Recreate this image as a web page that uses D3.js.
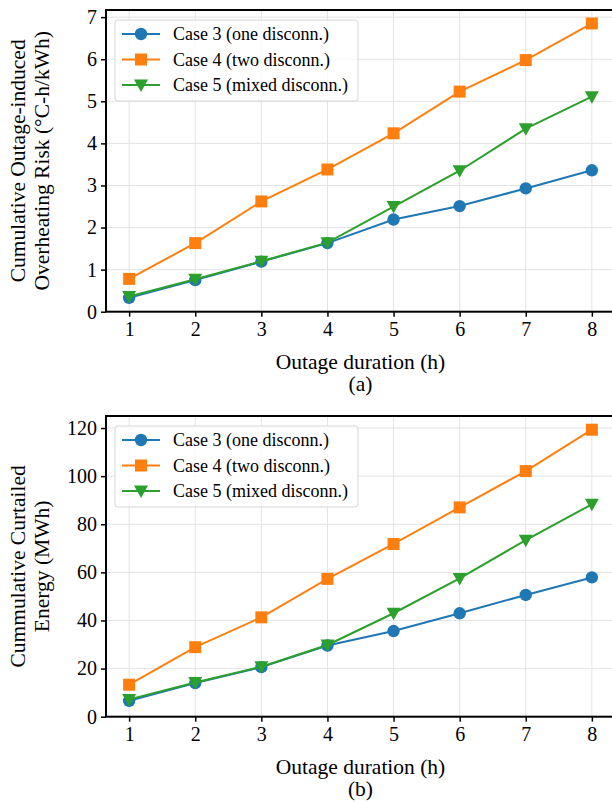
<!DOCTYPE html>
<html>
<head>
<meta charset="utf-8">
<script src="https://cdn.jsdelivr.net/npm/d3@7"></script>
<style>
  body { margin: 0; background: #fff; }
  svg text { font-family: "Liberation Serif", "Times New Roman", serif; fill: #000; }
</style>
</head>
<body>
<div id="chart"></div>
<script>
// outage duration (h)
const hours = [1, 2, 3, 4, 5, 6, 7, 8];

const seriesNames = ["Case 3 (one disconn.)", "Case 4 (two disconn.)", "Case 5 (mixed disconn.)"];
const seriesColors = ["#1f77b4", "#ff7f0e", "#2ca02c"];
const seriesMarkers = ["circle", "square", "triangle"];

// (a) cumulative outage-induced overheating risk
const riskCase3 = [0.33, 0.75, 1.19, 1.63, 2.19, 2.51, 2.93, 3.36];
const riskCase4 = [0.78, 1.63, 2.62, 3.38, 4.24, 5.23, 5.98, 6.85];
const riskCase5 = [0.36, 0.77, 1.20, 1.64, 2.50, 3.35, 4.35, 5.11];
const riskTicks = [0, 1, 2, 3, 4, 5, 6, 7];

// (b) cumulative curtailed energy
const energyCase3 = [6.6, 14.0, 20.6, 29.6, 35.6, 43.0, 50.6, 57.9];
const energyCase4 = [13.3, 28.9, 41.3, 57.3, 71.8, 87.0, 102.1, 119.3];
const energyCase5 = [7.2, 14.2, 20.8, 29.8, 43.0, 57.5, 73.4, 88.3];
const energyTicks = [0, 20, 40, 60, 80, 100, 120];

const W = 612, H = 802;
const svg = d3.select("#chart").append("svg")
    .attr("width", W)
    .attr("height", H);

function drawPanel(cfg) {
    const left = 106, right = 615;
    const top = cfg.top, bottom = cfg.bottom;

    const x = d3.scaleLinear().domain([0.65, 8.35]).range([left, right]);
    const y = d3.scaleLinear().domain(cfg.yDomain).range([bottom, top]);

    const g = svg.append("g");

    // grid
    g.append("g").selectAll("line.gx")
        .data(hours).enter().append("line")
        .attr("x1", d => x(d)).attr("x2", d => x(d))
        .attr("y1", top).attr("y2", bottom)
        .attr("stroke", "#e3e3e3").attr("stroke-width", 1);
    g.append("g").selectAll("line.gy")
        .data(cfg.yTicks).enter().append("line")
        .attr("x1", left).attr("x2", right)
        .attr("y1", d => y(d)).attr("y2", d => y(d))
        .attr("stroke", "#e3e3e3").attr("stroke-width", 1);

    // series
    const line = d3.line().x((d, i) => x(hours[i])).y(d => y(d));
    cfg.series.forEach((vals, k) => {
        const sg = g.append("g");
        sg.append("path")
            .datum(vals)
            .attr("d", line)
            .attr("fill", "none")
            .attr("stroke", seriesColors[k])
            .attr("stroke-width", 2);
        sg.selectAll("path.m")
            .data(vals).enter().append("path")
            .attr("class", "m")
            .attr("transform", (d, i) => `translate(${x(hours[i])},${y(d)})`)
            .attr("d", markerPath(seriesMarkers[k]))
            .attr("fill", seriesColors[k]);
    });

    // axes
    const xAxis = d3.axisBottom(x).tickValues(hours).tickFormat(d3.format("d"))
        .tickSize(5).tickPadding(5);
    const yAxis = d3.axisLeft(y).tickValues(cfg.yTicks).tickFormat(d3.format("d"))
        .tickSize(5).tickPadding(4);

    const gx = g.append("g").attr("transform", `translate(0,${bottom})`).call(xAxis);
    const gy = g.append("g").attr("transform", `translate(${left},0)`).call(yAxis);
    [gx, gy].forEach(a => {
        a.select(".domain").remove();
        a.selectAll(".tick line").attr("stroke", "#000").attr("stroke-width", 1.5);
        a.selectAll(".tick text").style("font-size", "20px");
    });

    // spines
    g.append("rect")
        .attr("x", left).attr("y", top)
        .attr("width", right - left).attr("height", bottom - top)
        .attr("fill", "none").attr("stroke", "#000").attr("stroke-width", 2);

    // axis labels
    const cx = (left + right) / 2;
    g.append("text")
        .attr("x", cx).attr("y", bottom + 57)
        .attr("text-anchor", "middle")
        .style("font-size", "21.5px")
        .text("Outage duration (h)");
    g.append("text")
        .attr("x", cx).attr("y", bottom + 79)
        .attr("text-anchor", "middle")
        .style("font-size", "21.5px")
        .text(cfg.tag);

    const cy = (top + bottom) / 2;
    cfg.yLabel.forEach((t, i) => {
        g.append("text")
            .attr("transform", `translate(${25 + i * 24},${cy}) rotate(-90)`)
            .attr("text-anchor", "middle")
            .style("font-size", "21.5px")
            .text(t);
    });

    // legend
    const lg = g.append("g").attr("transform", `translate(${left + 9},${top + 10})`);
    lg.append("rect")
        .attr("width", 243).attr("height", 81)
        .attr("rx", 3)
        .attr("fill", "rgba(255,255,255,0.8)")
        .attr("stroke", "#d6d6d6").attr("stroke-width", 1);
    seriesNames.forEach((name, k) => {
        const ry = 14 + k * 25.5;
        lg.append("line")
            .attr("x1", 7).attr("x2", 45)
            .attr("y1", ry).attr("y2", ry)
            .attr("stroke", seriesColors[k]).attr("stroke-width", 2);
        lg.append("path")
            .attr("transform", `translate(26,${ry})`)
            .attr("d", markerPath(seriesMarkers[k]))
            .attr("fill", seriesColors[k]);
        lg.append("text")
            .attr("x", 58).attr("y", ry)
            .attr("dy", "0.35em")
            .style("font-size", "18px")
            .text(name);
    });
}

function markerPath(kind) {
    if (kind === "circle") return d3.symbol(d3.symbolCircle, Math.PI * 6.2 * 6.2)();
    if (kind === "square") return "M-6,-6H6V6H-6Z";
    return "M-7,-5.5L7,-5.5L0,7Z";
}

drawPanel({
    top: 10, bottom: 311.7,
    yDomain: [0, 7.17],
    yTicks: riskTicks,
    series: [riskCase3, riskCase4, riskCase5],
    tag: "(a)",
    yLabel: ["Cumulative Outage-induced", "Overheating Risk (°C-h/kWh)"]
});

drawPanel({
    top: 416, bottom: 716.7,
    yDomain: [0, 125],
    yTicks: energyTicks,
    series: [energyCase3, energyCase4, energyCase5],
    tag: "(b)",
    yLabel: ["Cummulative Curtailed", "Energy (MWh)"]
});
</script>
</body>
</html>
